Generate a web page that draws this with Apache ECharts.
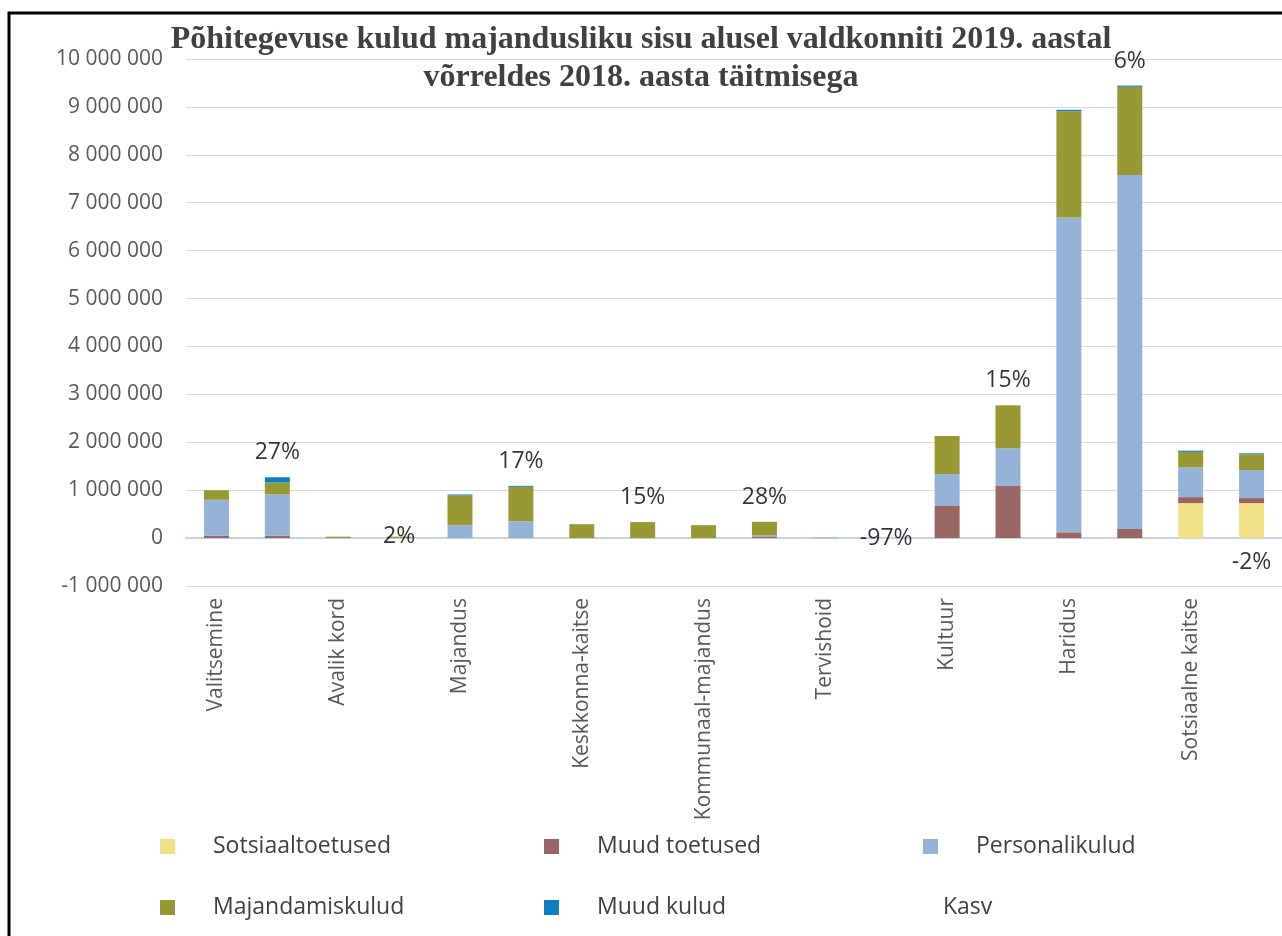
<!DOCTYPE html>
<html>
<head>
<meta charset="utf-8">
<script src="https://cdn.jsdelivr.net/npm/echarts@6/dist/echarts.min.js"></script>
<style>
html,body{margin:0;padding:0;background:#fff;}
#chart{width:1282px;height:936px;}
</style>
</head>
<body>
<div id="chart"></div>
<script>
// ---- data ----
const domains = ['Valitsemine','Avalik kord','Majandus','Keskkonna-kaitse','Kommunaal-majandus','Tervishoid','Kultuur','Haridus','Sotsiaalne kaitse'];
const years = ['2018','2019'];
const categories = domains.flatMap(d => years.map(y => d + ' ' + y));

// values per category (2018, 2019 for each domain)
const sotsiaaltoetused = [0,0, 0,0, 0,0, 0,0, 0,0, 0,0, 0,0, 0,0, 730000,730000];
const muudToetused     = [50000,50000, 0,0, 0,0, 0,0, 0,35000, 0,0, 670000,1085000, 120000,190000, 125000,105000];
const personalikulud   = [750000,860000, 0,0, 270000,350000, 0,0, 0,20000, 0,0, 670000,790000, 6570000,7390000, 625000,585000];
const majandamiskulud  = [200000,250000, 30000,30500, 620000,720000, 290000,335000, 270000,285000, 8000,250, 790000,900000, 2220000,1840000, 320000,330000];
const muudKulud        = [0,110000, 0,0, 20000,20000, 0,0, 0,0, 0,0, 0,0, 30000,25000, 25000,20000];
const kasv = [27, 2, 17, 15, 28, -97, 15, 6, -2];

const yMin = -1000000, yMax = 10000000, yStep = 1000000;

// ---- styles ----
const seriesNames = ['Sotsiaaltoetused','Muud toetused','Personalikulud','Majandamiskulud','Muud kulud'];
const seriesData = [sotsiaaltoetused, muudToetused, personalikulud, majandamiskulud, muudKulud];
const colors = ['#F1E287','#996664','#95B3D7','#989934','#0B7FC1'];
const kasvLabelPos = ['top','inside','top','top','top','inside','top','top','bottom'];

const fmt = v => String(v).replace(/\B(?=(\d{3})+(?!\d))/g, ' ');

const barSeries = seriesNames.map((n, i) => ({
  name: n, type: 'bar', stack: 'total', barWidth: 25,
  itemStyle: {color: colors[i]},
  data: seriesData[i]
}));

const kasvData = domains.map((d, i) => {
  const idx = 2 * i + 1;
  const total = seriesData.reduce((s, arr) => s + arr[idx], 0);
  const pos = kasvLabelPos[i];
  return {
    value: [categories[idx], pos === 'bottom' ? 0 : total],
    kasv: kasv[i],
    label: {position: pos}
  };
});

const legendText = {fontFamily: 'Open Sans', fontSize: 23, color: '#404040', padding: [0,0,0,33]};
const legendPos = [
  {name: 'Sotsiaaltoetused', left: 155, top: 830},
  {name: 'Muud toetused', left: 539, top: 830},
  {name: 'Personalikulud', left: 918, top: 830},
  {name: 'Majandamiskulud', left: 155, top: 891},
  {name: 'Muud kulud', left: 539, top: 891},
  {name: 'Kasv', left: 885, top: 891}
];
const legends = legendPos.map(p => ({
  left: p.left, top: p.top, orient: 'horizontal',
  itemWidth: 15, itemHeight: 15, selectedMode: false,
  textStyle: legendText,
  data: [p.name === 'Kasv' ? {name: 'Kasv', icon: 'rect', itemStyle: {color: 'rgba(0,0,0,0)', opacity: 0}} : {name: p.name, icon: 'rect'}]
}));

const chart = echarts.init(document.getElementById('chart'));
chart.setOption({
  animation: false,
  backgroundColor: '#fff',
  title: [
    {text: 'Põhitegevuse kulud majandusliku sisu alusel valdkonniti 2019. aastal', left: 636, top: 19, textAlign: 'center',
     textStyle: {fontFamily: 'Liberation Serif', fontWeight: 'bold', fontSize: 32, color: '#404040'}},
    {text: 'võrreldes 2018. aasta täitmisega', left: 636, top: 57, textAlign: 'center',
     textStyle: {fontFamily: 'Liberation Serif', fontWeight: 'bold', fontSize: 32, color: '#404040'}}
  ],
  legend: legends,
  grid: {left: 186, top: 59, width: 1098, height: 527, containLabel: false},
  xAxis: {
    type: 'category', data: categories,
    axisLine: {show: true, onZero: true, lineStyle: {color: '#C3D5EA', width: 2}},
    axisTick: {show: false},
    axisLabel: {
      interval: 1, rotate: 90, margin: 12,
      fontFamily: 'Open Sans', fontSize: 21, color: '#595959',
      formatter: v => v.replace(/ \d{4}$/, '')
    },
    splitLine: {show: false}
  },
  yAxis: {
    type: 'value', min: yMin, max: yMax, interval: yStep,
    axisLine: {show: false}, axisTick: {show: false},
    axisLabel: {fontFamily: 'Open Sans', fontSize: 21, color: '#595959', margin: 23, formatter: fmt},
    splitLine: {lineStyle: {color: '#D9D9D9', width: 1}}
  },
  series: barSeries.concat([{
    name: 'Kasv', type: 'scatter', symbolSize: 0, z: 5,
    itemStyle: {color: 'rgba(0,0,0,0)'},
    label: {show: true, distance: 13, fontFamily: 'Open Sans', fontSize: 23, color: '#000',
      formatter: p => p.data.kasv + '%'},
    data: kasvData
  }]),
  graphic: [{
    type: 'rect', silent: true, z: 100,
    shape: {x: 9, y: 13, width: 1400, height: 1000},
    style: {fill: 'none', stroke: '#000', lineWidth: 3}
  }]
});
</script>
</body>
</html>
